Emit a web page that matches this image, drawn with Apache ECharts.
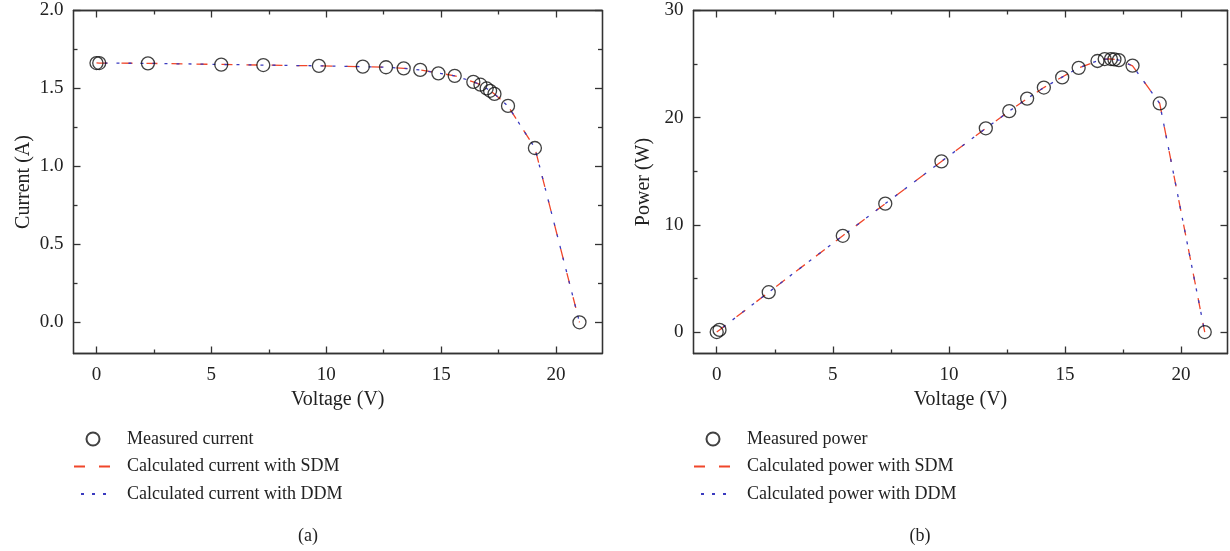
<!DOCTYPE html>
<html>
<head>
<meta charset="utf-8">
<script src="https://cdn.jsdelivr.net/npm/echarts@6/dist/echarts.min.js"></script>
<style>
html,body{margin:0;padding:0;background:#fff;}
#chart{width:1230px;height:551px;}
</style>
</head>
<body>
<div id="chart"></div>
<script>
// data (STM6-40/36 style module)
var voltage = [0, 0.12, 2.24, 5.43, 7.26, 9.68, 11.59, 12.6, 13.37, 14.09, 14.88, 15.59, 16.4, 16.71, 16.98, 17.13, 17.32, 17.91, 19.08, 21.02];
var measuredCurrent = [1.663, 1.663, 1.661, 1.653, 1.65, 1.645, 1.64, 1.636, 1.629, 1.619, 1.597, 1.581, 1.542, 1.524, 1.5, 1.485, 1.465, 1.388, 1.118, 0];
var sdmCurrent = [1.664, 1.663, 1.661, 1.654, 1.65, 1.645, 1.64, 1.636, 1.629, 1.619, 1.6, 1.581, 1.542, 1.524, 1.501, 1.486, 1.465, 1.387, 1.118, 0];
var ddmCurrent = [1.663, 1.663, 1.661, 1.654, 1.65, 1.645, 1.64, 1.636, 1.629, 1.619, 1.599, 1.581, 1.543, 1.524, 1.5, 1.486, 1.465, 1.387, 1.118, 0];
var measuredPower = [0, 0.2, 3.72, 8.98, 11.98, 15.92, 19.01, 20.61, 21.78, 22.81, 23.76, 24.65, 25.29, 25.47, 25.47, 25.44, 25.37, 24.86, 21.33, 0];
var sdmPower = [0, 0.2, 3.72, 8.99, 11.98, 15.92, 19.01, 20.61, 21.78, 22.81, 23.8, 24.65, 25.29, 25.47, 25.49, 25.45, 25.37, 24.84, 21.33, 0];
var ddmPower = [0, 0.2, 3.72, 8.99, 11.98, 15.92, 19.01, 20.61, 21.78, 22.81, 23.79, 24.65, 25.31, 25.47, 25.47, 25.45, 25.37, 24.84, 21.33, 0];

var xMajor = [0, 5, 10, 15, 20];
var xMinor = [2.5, 7.5, 12.5, 17.5];
var currentMajor = [0, 0.5, 1, 1.5, 2];
var currentMinor = [0.25, 0.75, 1.25, 1.75];
var powerMajor = [0, 10, 20, 30];
var powerMinor = [5, 15, 25];

var FONT = 'Liberation Serif';
var AXIS_COLOR = '#333';
var SDM_COLOR = '#f0462a';
var DDM_COLOR = '#3a3abf';

function pairs(xs, ys){
  return xs.map(function(x, i){ return [x, ys[i]]; });
}

// one axis (line + ticks, optional labels)
function mkAxis(grid, pos, min, max, ticks, len, withLabels, fmt, extra){
  var ax = {
    type: 'value',
    gridIndex: grid,
    position: pos,
    min: min,
    max: max,
    axisLine: {show: true, onZero: false, lineStyle: {color: AXIS_COLOR, width: 1.3}},
    axisTick: {show: true, inside: true, length: len, customValues: ticks, lineStyle: {color: AXIS_COLOR, width: 1.3}},
    axisLabel: {show: withLabels, customValues: ticks, formatter: fmt, color: '#222', fontFamily: FONT, fontSize: 19,
                margin: (pos == 'bottom' || pos == 'top') ? 12 : 10},
    splitLine: {show: false}
  };
  for (var k in extra) ax[k] = extra[k];
  return ax;
}

function nameOpts(name, gap){
  return {
    name: name, nameLocation: 'middle', nameGap: gap,
    nameTextStyle: {color: '#222', fontFamily: FONT, fontSize: 20}
  };
}

var fmt1 = function(v){ return v.toFixed(1); };
var fmt0 = function(v){ return String(v); };

var xAxes = [], yAxes = [];
[0, 1].forEach(function(g){
  xAxes.push(mkAxis(g, 'bottom', -1, 22, xMajor, 7, true, fmt0, nameOpts('Voltage (V)', 35)));
  xAxes.push(mkAxis(g, 'bottom', -1, 22, xMinor, 4, false, fmt0, {}));
  xAxes.push(mkAxis(g, 'top', -1, 22, xMajor, 7, false, fmt0, {}));
  xAxes.push(mkAxis(g, 'top', -1, 22, xMinor, 4, false, fmt0, {}));
});
yAxes.push(mkAxis(0, 'left', -0.2, 2, currentMajor, 7, true, fmt1, nameOpts('Current (A)', 40)));
yAxes.push(mkAxis(0, 'left', -0.2, 2, currentMinor, 4, false, fmt1, {}));
yAxes.push(mkAxis(0, 'right', -0.2, 2, currentMajor, 7, false, fmt1, {}));
yAxes.push(mkAxis(0, 'right', -0.2, 2, currentMinor, 4, false, fmt1, {}));
yAxes.push(mkAxis(1, 'left', -2, 30, powerMajor, 7, true, fmt0, nameOpts('Power (W)', 40)));
yAxes.push(mkAxis(1, 'left', -2, 30, powerMinor, 4, false, fmt0, {}));
yAxes.push(mkAxis(1, 'right', -2, 30, powerMajor, 7, false, fmt0, {}));
yAxes.push(mkAxis(1, 'right', -2, 30, powerMinor, 4, false, fmt0, {}));

function lineSeries(name, g, data, color, dash, offset){
  return {
    name: name, type: 'line', xAxisIndex: g * 4, yAxisIndex: g * 4,
    data: data, symbol: 'none', z: 3,
    lineStyle: {color: color, width: 1.3, type: dash, dashOffset: offset}
  };
}
function pointSeries(name, g, data){
  return {
    name: name, type: 'scatter', xAxisIndex: g * 4, yAxisIndex: g * 4,
    data: data, symbol: 'circle', symbolSize: 13, z: 5,
    itemStyle: {color: 'rgba(0,0,0,0)', borderColor: '#111', borderWidth: 1.3}
  };
}

var hideSym = {color: 'rgba(0,0,0,0)', borderColor: 'rgba(0,0,0,0)', borderWidth: 0};
function mkLegend(left, names){
  return {
    left: left, top: 424, orient: 'vertical',
    itemWidth: 38, itemHeight: 13, itemGap: 7.5, selectedMode: false,
    textStyle: {color: '#222', fontFamily: FONT, fontSize: 18, lineHeight: 20, padding: [0, 0, 0, 10]},
    data: [
      {name: names[0]},
      {name: names[1], itemStyle: hideSym},
      {name: names[2], itemStyle: hideSym, lineStyle: {type: [3, 8]}}
    ]
  };
}

var chart = echarts.init(document.getElementById('chart'), null, {renderer: 'canvas'});
var option = {
  animation: false,
  backgroundColor: '#fff',
  grid: [
    {left: 73.5, top: 10.5, width: 528.5, height: 343},
    {left: 693.5, top: 10.5, width: 534, height: 343}
  ],
  xAxis: xAxes,
  yAxis: yAxes,
  legend: [
    mkLegend(68, ['Measured current', 'Calculated current with SDM', 'Calculated current with DDM']),
    mkLegend(688, ['Measured power', 'Calculated power with SDM', 'Calculated power with DDM'])
  ],
  graphic: [
    {type: 'text', style: {text: '(a)', x: 308, y: 536, align: 'center', verticalAlign: 'middle', fill: '#222', font: '18px "Liberation Serif"'}},
    {type: 'text', style: {text: '(b)', x: 920, y: 536, align: 'center', verticalAlign: 'middle', fill: '#222', font: '18px "Liberation Serif"'}}
  ],
  series: [
    lineSeries('Calculated current with SDM', 0, pairs(voltage, sdmCurrent), SDM_COLOR, [11, 14], 0),
    lineSeries('Calculated current with DDM', 0, pairs(voltage, ddmCurrent), DDM_COLOR, [3, 9], 4),
    pointSeries('Measured current', 0, pairs(voltage, measuredCurrent)),
    lineSeries('Calculated power with SDM', 1, pairs(voltage, sdmPower), SDM_COLOR, [11, 14], 0),
    lineSeries('Calculated power with DDM', 1, pairs(voltage, ddmPower), DDM_COLOR, [3, 9], 4),
    pointSeries('Measured power', 1, pairs(voltage, measuredPower))
  ]
};
chart.setOption(option);
</script>
</body>
</html>
